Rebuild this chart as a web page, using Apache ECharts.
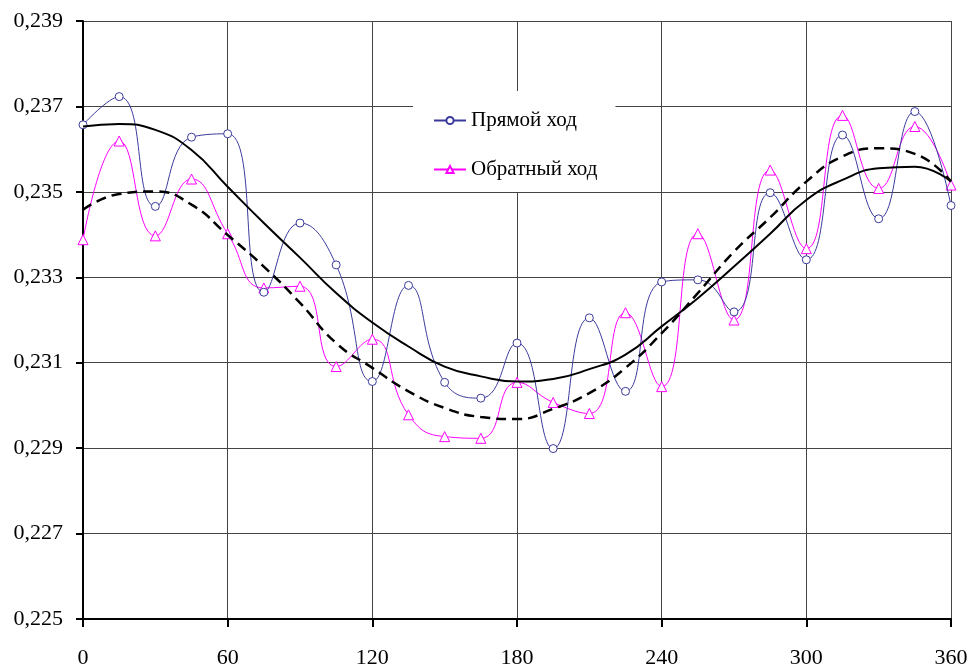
<!DOCTYPE html>
<html>
<head>
<meta charset="utf-8">
<script src="https://cdn.jsdelivr.net/npm/echarts@6/dist/echarts.min.js"></script>
<style>
  html, body { margin: 0; padding: 0; background: #fff; }
  #chart { width: 972px; height: 666px; }
</style>
</head>
<body>
<div id="chart"></div>
<script>
// углы, град
const angles = [0, 15, 30, 45, 60, 75, 90, 105, 120, 135, 150, 165, 180,
  195, 210, 225, 240, 255, 270, 285, 300, 315, 330, 345, 360]
// прямой ход
const forward = [0.23657, 0.23723, 0.23466, 0.23628, 0.23636, 0.23265, 0.23427, 0.23329, 0.23056,
  0.23281, 0.23054, 0.23017, 0.23146, 0.22899, 0.23205, 0.23033, 0.23289, 0.23294,
  0.23219, 0.23498, 0.23341, 0.23633, 0.23437, 0.23688, 0.23468]
// обратный ход
const backward = [0.23388, 0.23619, 0.23397, 0.23530, 0.23402, 0.23275, 0.23279, 0.23091, 0.23155,
  0.22978, 0.22927, 0.22923, 0.23054, 0.23007, 0.22981, 0.23217, 0.23044, 0.23402,
  0.23200, 0.23551, 0.23367, 0.23679, 0.23508, 0.23653, 0.23516]
// линия тренда прямого хода (сплошная)
const forwardFit = [0.23653, 0.23659, 0.23645, 0.23598, 0.23512, 0.23427, 0.23346, 0.23263, 0.23194,
  0.23138, 0.23091, 0.23068, 0.23056, 0.23062, 0.23085, 0.23119, 0.23185, 0.23251,
  0.23325, 0.23402, 0.23481, 0.23528, 0.23555, 0.23559, 0.23524]
// линия тренда обратного хода (пунктир)
const backwardFit = [0.23458, 0.23495, 0.23501, 0.23470, 0.23399, 0.23325, 0.23240, 0.23146, 0.23088,
  0.23033, 0.22994, 0.22973, 0.22968, 0.22992, 0.23029, 0.23088, 0.23169, 0.23263,
  0.23360, 0.23440, 0.23524, 0.23583, 0.23602, 0.23589, 0.23524]

const pairs = ys => angles.map((a, i) => [a, ys[i]])
const font = 'Liberation Serif'

const chart = echarts.init(document.getElementById('chart'))
chart.setOption({
  animation: false,
  grid: { left: 83, right: 21, top: 21, bottom: 47, outerBoundsMode: 'none' },
  legend: {
    data: ['Прямой ход', 'Обратный ход'],
    orient: 'vertical',
    left: 413,
    top: 91,
    padding: [19, 18, 12, 20],
    itemGap: 28,
    itemWidth: 32,
    itemHeight: 9,
    backgroundColor: '#fff',
    textStyle: { fontFamily: font, fontSize: 21, color: '#000' }
  },
  xAxis: {
    type: 'value',
    min: 0, max: 360, interval: 60,
    axisLine: { show: true, onZero: false, lineStyle: { color: '#000', width: 2 } },
    axisTick: { show: true, length: 8, lineStyle: { color: '#000', width: 2 } },
    axisLabel: { fontFamily: font, fontSize: 22, color: '#000', margin: 28 },
    splitLine: { show: true, lineStyle: { color: '#444', width: 1 } }
  },
  yAxis: {
    type: 'value',
    min: 0.225, max: 0.239, interval: 0.002,
    axisLine: { show: true, lineStyle: { color: '#000', width: 2 } },
    axisTick: { show: true, length: 7, lineStyle: { color: '#000', width: 2 } },
    axisLabel: {
      fontFamily: font, fontSize: 22, color: '#000', margin: 20,
      formatter: v => v.toFixed(3).replace('.', ',')
    },
    splitLine: { show: true, lineStyle: { color: '#444', width: 1 } }
  },
  series: [
    {
      name: 'Прямой ход', type: 'line', smooth: 0.5,
      data: pairs(forward),
      symbol: 'circle', symbolSize: 8,
      lineStyle: { color: '#3a3a9c', width: 1 },
      itemStyle: { color: '#fff', borderColor: '#3a3a9c', borderWidth: 1 },
      z: 3
    },
    {
      name: 'Обратный ход', type: 'line', smooth: 0.5,
      data: pairs(backward),
      symbol: 'triangle', symbolSize: 10,
      lineStyle: { color: '#ff00ff', width: 1 },
      itemStyle: { color: '#fff', borderColor: '#ff00ff', borderWidth: 1 },
      z: 2
    },
    {
      name: 'trend1', type: 'line', smooth: true, showSymbol: false,
      data: pairs(forwardFit),
      lineStyle: { color: '#000', width: 2 },
      z: 4
    },
    {
      name: 'trend2', type: 'line', smooth: true, showSymbol: false,
      data: pairs(backwardFit),
      lineStyle: { color: '#000', width: 2.5, type: [10, 6] },
      z: 4
    }
  ]
})
</script>
</body>
</html>
